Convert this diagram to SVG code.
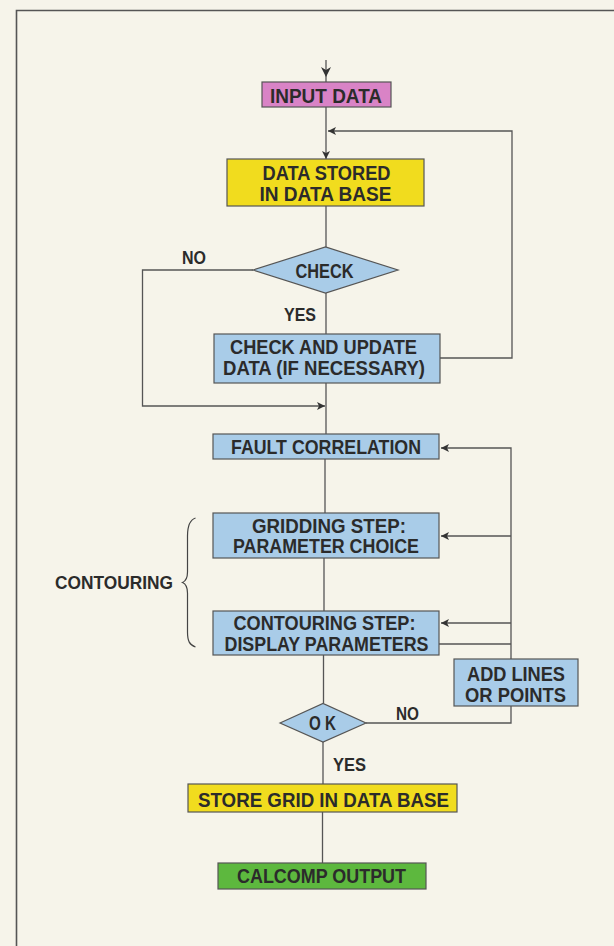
<svg xmlns="http://www.w3.org/2000/svg" width="614" height="946" viewBox="0 0 614 946">
<defs>
<marker id="ah" viewBox="0 0 10 10" refX="10" refY="5" markerWidth="10" markerHeight="8" markerUnits="userSpaceOnUse" orient="auto">
<path d="M0,0 L10,5 L0,10 L2.5,5 z" fill="#333"/>
</marker>
<style>
.ln{fill:none;stroke:#555;stroke-width:1.3}
.box{stroke:#555;stroke-width:1.2}
.pink{fill:#d983c6}
.yel{fill:#f1dc1e}
.blue{fill:#a9cce8}
.green{fill:#5db83e}
.t{font-family:"Liberation Sans",Arial,sans-serif;font-weight:bold;font-size:20px;fill:#2b2b2b;text-anchor:middle}
.l{font-family:"Liberation Sans",Arial,sans-serif;font-weight:bold;font-size:19px;fill:#2b2b2b}
</style>
</defs>
<rect width="614" height="946" fill="#f6f4ea"/>
<path d="M16.5,946 L16.5,10.5 L614,10.5" fill="none" stroke="#555" stroke-width="1.6"/>

<g id="connectors">
<line class="ln" x1="326" y1="60" x2="326" y2="82"/>
<path d="M321,67 L326,77 L331,67 L326,70 z" fill="#333"/>
<line class="ln" x1="326" y1="107" x2="326" y2="159" marker-end="url(#ah)"/>
<path class="ln" d="M440,358 L512,358 L512,131 L328,131" marker-end="url(#ah)"/>
<line class="ln" x1="326" y1="206" x2="326" y2="247"/>
<line class="ln" x1="326" y1="293" x2="326" y2="334"/>
<path class="ln" d="M253,270 L142.5,270 L142.5,406 L325,406" marker-end="url(#ah)"/>
<line class="ln" x1="326" y1="383" x2="326" y2="434"/>
<line class="ln" x1="325" y1="459" x2="325" y2="513"/>
<line class="ln" x1="324" y1="558" x2="324" y2="611"/>
<line class="ln" x1="323.5" y1="655" x2="323.5" y2="703"/>
<line class="ln" x1="323" y1="742" x2="323" y2="784"/>
<line class="ln" x1="322.5" y1="812" x2="322.5" y2="863"/>
<path class="ln" d="M511,659 L511,448 L441,448" marker-end="url(#ah)"/>
<line class="ln" x1="511" y1="536" x2="441" y2="536" marker-end="url(#ah)"/>
<line class="ln" x1="511" y1="623" x2="441" y2="623" marker-end="url(#ah)"/>
<line class="ln" x1="439" y1="644" x2="511" y2="644"/>
<path class="ln" d="M366,723 L511,723 L511,706"/>
</g>

<g id="input">
<rect class="box pink" x="262" y="82" width="129" height="25"/>
<text class="t" x="326" y="102.5" textLength="112" lengthAdjust="spacingAndGlyphs">INPUT DATA</text>
</g>
<g id="stored">
<rect class="box yel" x="227" y="159" width="197" height="47"/>
<text class="t" x="326.5" y="180" textLength="128" lengthAdjust="spacingAndGlyphs">DATA STORED</text>
<text class="t" x="325.5" y="200.5" textLength="132" lengthAdjust="spacingAndGlyphs">IN DATA BASE</text>
</g>
<g id="check">
<polygon class="box blue" points="253,270 325.5,247 398,270 325.5,293"/>
<text class="t" x="324.5" y="277.5" textLength="58" lengthAdjust="spacingAndGlyphs">CHECK</text>
</g>
<g id="labels-check">
<text class="l" x="182" y="264" textLength="24" lengthAdjust="spacingAndGlyphs">NO</text>
<text class="l" x="284" y="320.5" textLength="32" lengthAdjust="spacingAndGlyphs">YES</text>
</g>
<g id="update">
<rect class="box blue" x="214" y="334" width="226" height="49"/>
<text class="t" x="323.5" y="354.3" textLength="187" lengthAdjust="spacingAndGlyphs">CHECK AND UPDATE</text>
<text class="t" x="324" y="374.7" textLength="202" lengthAdjust="spacingAndGlyphs">DATA (IF NECESSARY)</text>
</g>
<g id="fault">
<rect class="box blue" x="213" y="434" width="226" height="25"/>
<text class="t" x="326" y="454" textLength="190" lengthAdjust="spacingAndGlyphs">FAULT CORRELATION</text>
</g>
<g id="gridding">
<rect class="box blue" x="213" y="513" width="226" height="45"/>
<text class="t" x="329" y="532.6" textLength="154" lengthAdjust="spacingAndGlyphs">GRIDDING STEP:</text>
<text class="t" x="326" y="553" textLength="186" lengthAdjust="spacingAndGlyphs">PARAMETER CHOICE</text>
</g>
<g id="contouring-step">
<rect class="box blue" x="213" y="611" width="226" height="44"/>
<text class="t" x="324.5" y="630" textLength="182" lengthAdjust="spacingAndGlyphs">CONTOURING STEP:</text>
<text class="t" x="326.5" y="650.5" textLength="204" lengthAdjust="spacingAndGlyphs">DISPLAY PARAMETERS</text>
</g>
<g id="contouring-label">
<text class="l" x="55" y="589" textLength="118" lengthAdjust="spacingAndGlyphs">CONTOURING</text>
<path d="M195.5,518 C189.5,520 187.5,526 187.5,536 L187.5,572 C187.5,578 186,581 182.5,582.5 C186,584 187.5,587 187.5,593 L187.5,632 C187.5,641 189.5,645 195.5,647" fill="none" stroke="#444" stroke-width="1.2"/>
</g>
<g id="addlines">
<rect class="box blue" x="454" y="659" width="124" height="47"/>
<text class="t" x="516" y="680.5" textLength="98" lengthAdjust="spacingAndGlyphs">ADD LINES</text>
<text class="t" x="515.5" y="701.5" textLength="101" lengthAdjust="spacingAndGlyphs">OR POINTS</text>
</g>
<g id="ok">
<polygon class="box blue" points="280,723 323,703.5 366,723 323,742"/>
<text class="t" x="322.5" y="730" textLength="27" lengthAdjust="spacingAndGlyphs">O K</text>
</g>
<g id="labels-ok">
<text class="l" x="396" y="720" textLength="23" lengthAdjust="spacingAndGlyphs">NO</text>
<text class="l" x="333" y="770.5" textLength="33" lengthAdjust="spacingAndGlyphs">YES</text>
</g>
<g id="storegrid">
<rect class="box yel" x="188" y="784" width="269" height="28"/>
<text class="t" x="323.5" y="806.5" textLength="251" lengthAdjust="spacingAndGlyphs">STORE GRID IN DATA BASE</text>
</g>
<g id="calcomp">
<rect class="box green" x="218" y="863" width="208" height="26"/>
<text class="t" x="321.5" y="883.3" textLength="169" lengthAdjust="spacingAndGlyphs">CALCOMP OUTPUT</text>
</g>
</svg>
